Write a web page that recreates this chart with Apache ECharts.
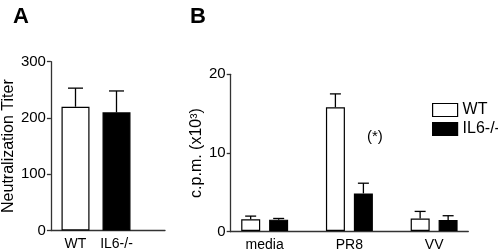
<!DOCTYPE html>
<html>
<head>
<meta charset="utf-8">
<script src="https://cdn.jsdelivr.net/npm/echarts@6/dist/echarts.min.js"></script>
<style>
  html, body { margin: 0; padding: 0; background: #fff; }
  #chart { width: 498px; height: 252px; }
</style>
</head>
<body>
<div id="chart"></div>
<script>
// panel A: neutralization titer
var groupsA = ['WT', 'IL6-/-'];
var titerMean = [220, 210];
var titerErr = [33, 38];
var colorsA = ['#ffffff', '#000000'];
var ticksA = { min: 0, max: 300, interval: 100 };

// panel B: proliferation (c.p.m. x10^3)
var stimuli = ['media', 'PR8', 'VV'];
var wtMean = [1.5, 15.8, 1.6];
var wtErr = [0.4, 1.7, 0.9];
var koMean = [1.45, 4.8, 1.4];
var koErr = [0.15, 1.3, 0.55];
var ticksB = { min: 0, max: 20, interval: 10 };

var font = "'Liberation Sans', Arial, sans-serif";
var axisCol = '#333';

// error bars: stem from bar top up to mean+err with a cap
function errorSeries(xi, means, errs, offset, capW) {
	return {
		type: 'custom',
		xAxisIndex: xi,
		yAxisIndex: xi,
		z: 5,
		silent: true,
		data: means.map(function (m, i) { return [i, m, m + errs[i]]; }),
		renderItem: function (params, api) {
			var b = api.coord([api.value(0), api.value(1)]);
			var t = api.coord([api.value(0), api.value(2)]);
			var x = b[0] + offset;
			var st = { stroke: '#000', lineWidth: 1.3 };
			return {
				type: 'group',
				children: [
					{ type: 'line', shape: { x1: x, y1: b[1], x2: x, y2: t[1] }, style: st },
					{ type: 'line', shape: { x1: x - capW / 2, y1: t[1], x2: x + capW / 2, y2: t[1] }, style: st }
				]
			};
		}
	};
}

function valueAxis(grid, t, visible, nameText, nameGap) {
	return {
		type: 'value', gridIndex: grid, min: t.min, max: t.max, interval: t.interval,
		show: visible,
		name: nameText, nameLocation: 'middle', nameGap: nameGap,
		nameTextStyle: { fontFamily: font, fontSize: 16, color: '#000' },
		axisLine: { show: true, lineStyle: { color: axisCol, width: 1.3 } },
		axisTick: { show: true, length: 4, lineStyle: { color: axisCol, width: 1.3 } },
		axisLabel: { fontFamily: font, fontSize: 15, color: '#000', margin: 5 },
		splitLine: { show: false }
	};
}

function lineOnlyX(grid) {
	return {
		type: 'value', gridIndex: grid, min: 0, max: 1,
		axisLine: { show: true, onZero: false, lineStyle: { color: axisCol, width: 1.3 } },
		axisTick: { show: false }, axisLabel: { show: false }, splitLine: { show: false }
	};
}

function catX(grid, cats) {
	return {
		type: 'category', gridIndex: grid, data: cats,
		axisLine: { show: false }, axisTick: { show: false },
		axisLabel: { fontFamily: font, fontSize: 14, color: '#000', margin: 7, interval: 0 }
	};
}

var chart = echarts.init(document.getElementById('chart'));

var option = {
	backgroundColor: '#fff',
	animation: false,
	title: [
		{ text: 'A', left: 8, top: 1, textStyle: { fontFamily: font, fontSize: 22, fontWeight: 'bold', color: '#000' } },
		{ text: 'B', left: 185, top: 1, textStyle: { fontFamily: font, fontSize: 22, fontWeight: 'bold', color: '#000' } }
	],
	legend: {
		orient: 'vertical',
		left: 427, top: 97,
		itemWidth: 25, itemHeight: 13, itemGap: 3,
		textStyle: { fontFamily: font, fontSize: 16, color: '#000', lineHeight: 15 },
		data: [
			{ name: 'WT', icon: 'rect', itemStyle: { color: '#fff', borderColor: '#000', borderWidth: 1.2 } },
			{ name: 'IL6-/-', icon: 'rect', itemStyle: { color: '#000', borderColor: '#000', borderWidth: 1.2 } }
		]
	},
	grid: [
		// 0: bars A, 1: axes A, 2: bars B, 3: axes B
		{ left: 55, width: 82, top: 61.7, height: 168.8 },
		{ left: 46.7, width: 118.3, top: 61.7, height: 168.8 },
		{ left: 222.3, width: 254.2, top: 74.3, height: 157.4 },
		{ left: 230.7, width: 237.6, top: 74.3, height: 157.4 }
	],
	xAxis: [catX(0, groupsA), lineOnlyX(1), catX(2, stimuli), lineOnlyX(3)],
	yAxis: [
		valueAxis(0, ticksA, false),
		valueAxis(1, ticksA, true, 'Neutralization Titer', 30),
		valueAxis(2, ticksB, false),
		valueAxis(3, ticksB, true, 'c.p.m. (x10³)', 26)
	],
	graphic: [
		{ type: 'text', left: 367, top: 129, style: { text: '(*)', font: '15px ' + font, fill: '#000' } }
	],
	series: [
		{
			name: 'Titer', type: 'bar', xAxisIndex: 0, yAxisIndex: 0, barWidth: 28,
			data: titerMean.map(function (v, i) {
				return { value: v, itemStyle: { color: colorsA[i] } };
			}),
			itemStyle: { borderColor: '#000', borderWidth: 1.2 }
		},
		errorSeries(0, titerMean, titerErr, 0, 15),
		{
			name: 'WT', type: 'bar', xAxisIndex: 2, yAxisIndex: 2, barWidth: 19, barGap: '47%',
			data: wtMean,
			itemStyle: { color: '#fff', borderColor: '#000', borderWidth: 1.2 }
		},
		{
			name: 'IL6-/-', type: 'bar', xAxisIndex: 2, yAxisIndex: 2, barWidth: 19, barGap: '47%',
			data: koMean,
			itemStyle: { color: '#000', borderColor: '#000', borderWidth: 1.2 }
		},
		errorSeries(2, wtMean, wtErr, -14, 11),
		errorSeries(2, koMean, koErr, 14, 11)
	]
};

chart.setOption(option);
</script>
</body>
</html>
